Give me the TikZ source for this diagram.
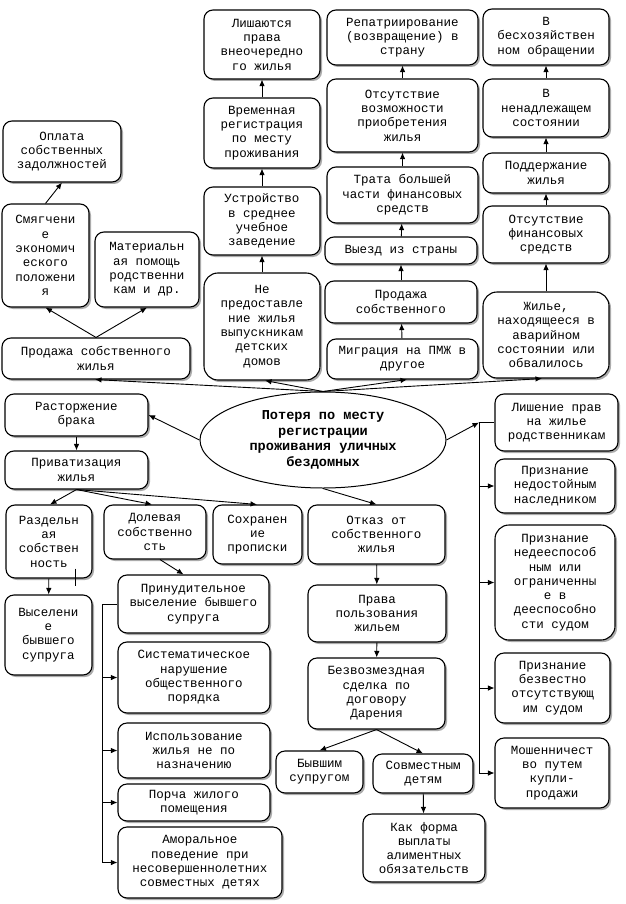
\documentclass[tikz,border=0pt]{standalone}
\usepackage{fontspec}
\setmainfont{Liberation Mono}
\usetikzlibrary{arrows.meta,shapes.geometric,shadows,calc}
\tikzset{
  box/.style={draw, line width=1.1pt, rounded corners=9pt, fill=white, align=center, inner sep=1pt,
    font=\fontsize{12.5}{14.3}\selectfont,
    drop shadow={shadow xshift=2pt, shadow yshift=-2pt, fill=black!60, opacity=0.55}},
  bigr/.style={rounded corners=14pt},
  arr/.style={-{Latex[length=6.5pt,width=5.5pt]}, line width=0.9pt},
  ln/.style={line width=0.9pt},
  ell/.style={draw, ellipse, line width=1pt, fill=white, align=center, inner sep=0pt,
    font=\fontsize{13.6}{15.6}\selectfont\bfseries}
}
\newcommand{\bx}[6][]{\node[box,#1,minimum width={#4-#2},minimum height={#5-#3}] (#6) at ({(#2+#4)/2},{(#3+#5)/2})}
\begin{document}
\begin{tikzpicture}[x=1pt,y=-1pt]
\useasboundingbox (0,0) rectangle (625,904);
% top column 1
\bx{204}{10}{320}{79}{lish}{Лишаются\\права\\внеочередно\\го жилья};
\bx{204}{98}{320}{168}{vrem}{Временная\\регистрация\\по месту\\проживания};
\bx{204}{187}{320}{255}{ustr}{Устройство\\в среднее\\учебное\\заведение};
\bx[bigr]{204}{273}{320}{380}{nopr}{Не\\предоставле\\ние жилья\\выпускникам\\детских\\домов};
% top column 2
\bx{327}{10}{478}{65}{repat}{Репатриирование\\(возвращение) в\\страну};
\bx{327}{79}{478}{152}{otsv}{Отсутствие\\возможности\\приобретения\\жилья};
\bx{327}{167}{478}{223}{trata}{Трата большей\\части финансовых\\средств};
\bx{325}{237}{477}{264}{vyezd}{Выезд из страны};
\bx{325}{281}{477}{323}{prod}{Продажа\\собственного};
\bx{327}{339}{478}{379}{migr}{Миграция на ПМЖ в\\другое};
% top column 3
\bx{483}{9}{609}{65}{bhoz}{В\\бесхозяйствен\\ном обращении};
\bx{483}{79}{609}{137}{nenad}{В\\ненадлежащем\\состоянии};
\bx{483}{153}{609}{193}{podd}{Поддержание\\жилья};
\bx{483}{206}{609}{263}{otsf}{Отсутствие\\финансовых\\средств};
\bx[bigr]{483}{292}{609}{378}{zhil}{Жилье,\\находящееся в\\аварийном\\состоянии или\\обвалилось};
% left top
\bx{3}{121}{121}{182}{opl}{Оплата\\собственных\\задолжностей};
\bx{2}{204}{89}{307}{smyag}{Смягчени\\е\\экономич\\еского\\положени\\я};
\bx{95}{232}{199}{307}{mat}{Материальн\\ая помощь\\родственни\\кам и др.};
\bx{2}{338}{190}{379}{prodzh}{Продажа собственного\\жилья};
% center
\node[ell, minimum width=246, minimum height=96] (ell) at (323,440) {Потеря по месту\\регистрации\\проживания уличных\\бездомных};
% left middle
\bx{5}{394}{148}{436}{rast}{Расторжение\\брака};
\bx{5}{451}{148}{489}{priv}{Приватизация\\жилья};
\bx{6}{505}{92}{578}{razd}{Раздельн\\ая\\собствен\\ность};
\bx{104}{505}{206}{559}{dol}{Долевая\\собственно\\сть};
\bx{213}{505}{302}{564}{sohr}{Сохранен\\ие\\прописки};
\bx{308}{505}{445}{564}{otkaz}{Отказ от\\собственного\\жилья};
\bx{5}{595}{92}{675}{vysel}{Выселени\\е\\бывшего\\супруга};
\bx{118}{575}{269}{633}{prin}{Принудительное\\выселение бывшего\\супруга};
\bx{118}{642}{270}{713}{sist}{Систематическое\\нарушение\\общественного\\порядка};
\bx{118}{723}{270}{778}{isp}{Использование\\жилья не по\\назначению};
\bx{118}{784}{270}{821}{porch}{Порча жилого\\помещения};
\bx{118}{827}{282}{898}{amor}{Аморальное\\поведение при\\несовершеннолетних\\совместных детях};
% middle lower
\bx{308}{585}{446}{642}{prava}{Права\\пользования\\жильем};
\bx{308}{658}{445}{729}{bezv}{Безвозмездная\\сделка по\\договору\\Дарения};
\bx{276}{751}{363}{793}{byv}{Бывшим\\супругом};
\bx{373}{754}{473}{793}{sovm}{Совместным\\детям};
\bx{363}{814}{485}{882}{kak}{Как форма\\выплаты\\алиментных\\обязательств};
% right lower
\bx{495}{394}{618}{451}{lishr}{Лишение прав\\на жилье\\родственникам};
\bx{495}{459}{615}{513}{nedost}{Признание\\недостойным\\наследником};
\bx[bigr]{495}{525}{615}{640}{nedee}{Признание\\недееспособ\\ным или\\ограниченны\\е в\\дееспособно\\сти судом};
\bx{495}{653}{610}{723}{bezvest}{Признание\\безвестно\\отсутствующ\\им судом};
\bx{495}{738}{609}{808}{mosh}{Мошенничест\\во путем\\купли-\\продажи};
% vertical stacks
\draw[arr] (nopr) -- (ustr);
\draw[arr] (ustr) -- (vrem);
\draw[arr] (vrem) -- (lish);
\draw[arr] (migr) -- (prod);
\draw[arr] (prod) -- (vyezd);
\draw[arr] (vyezd) -- (trata);
\draw[arr] (trata) -- (otsv);
\draw[arr] (otsv) -- (repat);
\draw[arr] (zhil) -- (otsf);
\draw[arr] (otsf) -- (podd);
\draw[arr] (podd) -- (nenad);
\draw[arr] (nenad) -- (bhoz);
% from ellipse top
\draw[arr] (ell.north) -- (265,0 |- nopr.south);
\draw[arr] (ell.north) -- (407,0 |- migr.south);
\draw[arr] (ell.north) -- (95,0 |- prodzh.south);
\draw[arr] (ell.north) -- (542,0 |- zhil.south);
% left top
\draw[arr] (prodzh.north) -- (smyag.south);
\draw[arr] (prodzh.north) -- (mat.south);
\draw[arr] (smyag.north) -- (opl.south);
% ellipse left/bottom
\draw[arr] (ell.west) -- (rast.east);
\draw[arr] (rast) -- (priv);
\draw[arr] (priv.south) -- (50,0 |- razd.north);
\draw[arr] (priv.south) -- (152,0 |- dol.north);
\draw[arr] (priv.south) -- (257,0 |- sohr.north);
\draw[arr] (razd) -- (vysel);
\draw[ln] ($(razd.south)+(26,-10)$) -- ($(razd.south)+(26,7)$);
\draw[arr] ($(dol.south)+(5,0)$) -- ($(prin.north)+(-10,0)$);
% left bracket
\coordinate (lv) at (102,0 |- prin.west);
\draw[ln] (prin.west) -- (lv) -- (lv |- amor.west);
\draw[arr] (lv |- sist.west) -- (sist.west);
\draw[arr] (lv |- isp.west) -- (isp.west);
\draw[arr] (lv |- porch.west) -- (porch.west);
\draw[arr] (lv |- amor.west) -- (amor.west);
% middle chain
\draw[arr] (ell.south) -- (otkaz.north);
\draw[arr] (otkaz) -- (prava);
\draw[arr] (prava) -- (bezv);
\draw[arr] (bezv.south) -- (byv.north);
\draw[arr] (bezv.south) -- (sovm.north);
\draw[arr] (sovm) -- (kak);
% right bracket
\coordinate (rv) at (479,0 |- lishr.west);
\draw[arr] (ell.east) -- (rv);
\draw[ln] (rv) -- (lishr.west);
\draw[ln] (rv) -- (rv |- mosh.west);
\draw[arr] (rv |- nedost.west) -- (nedost.west);
\draw[arr] (rv |- nedee.west) -- (nedee.west);
\draw[arr] (rv |- bezvest.west) -- (bezvest.west);
\draw[arr] (rv |- mosh.west) -- (mosh.west);
\end{tikzpicture}
\end{document}
